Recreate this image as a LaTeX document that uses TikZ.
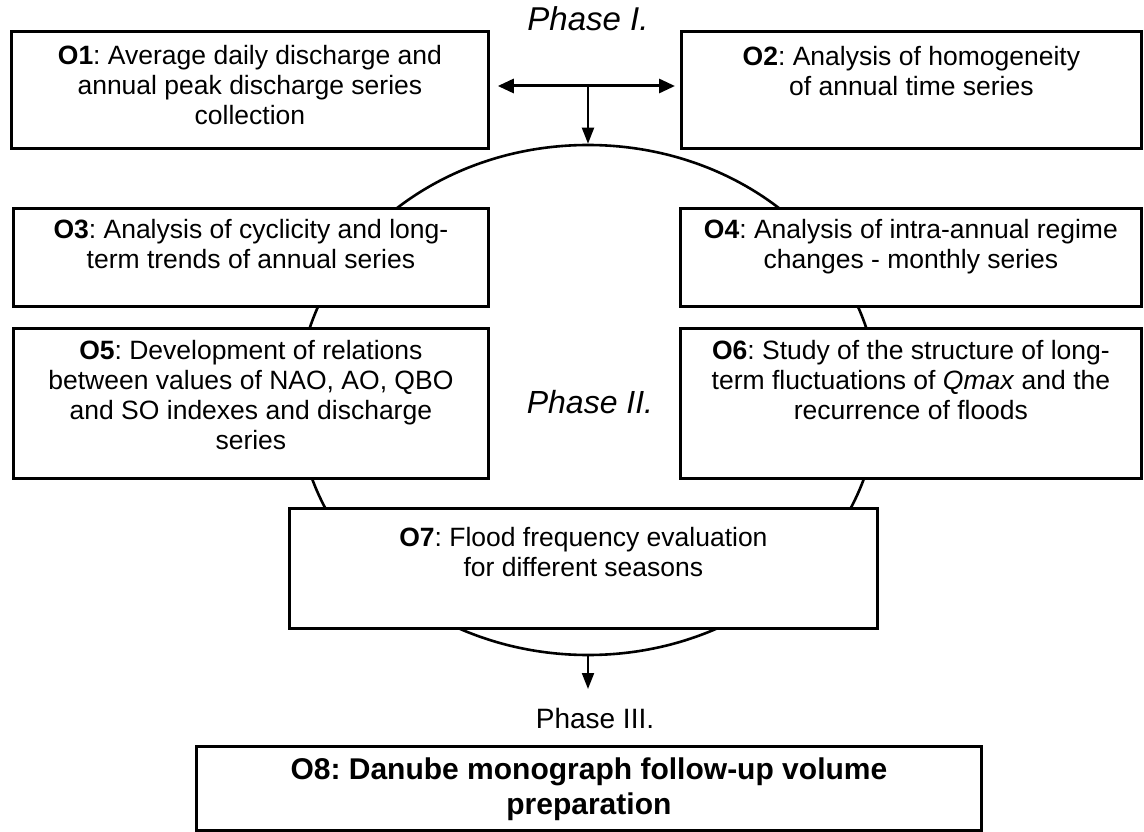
\documentclass[tikz,border=0pt]{standalone}
\usepackage{fontspec}
\setmainfont{Liberation Sans}
\usetikzlibrary{arrows.meta,shapes.geometric}
\frenchspacing
\begin{document}
\begin{tikzpicture}[x=1pt,y=-1pt,
  box/.style={draw, line width=2.8pt, fill=white, inner sep=0pt, anchor=north west},
  txt/.style={anchor=north, align=center, inner sep=0pt, font=\fontsize{26.5}{30}\selectfont},
  arr/.style={line width=2pt, -{Triangle[length=16pt,width=12pt]}}
]
\useasboundingbox (0,0) rectangle (1144,832);

% cycle of phase II
\node[draw, ellipse, line width=2.6pt, minimum width=580pt, minimum height=510pt, inner sep=0pt] (cyc) at (588,400) {};

% boxes
\node[box, minimum width=477pt, minimum height=117pt] (o1) at (10,30) {};
\node[box, minimum width=460pt, minimum height=117pt] (o2) at (680,30) {};
\node[box, minimum width=475pt, minimum height=98pt] (o3) at (12,207) {};
\node[box, minimum width=461pt, minimum height=98pt] (o4) at (679,207) {};
\node[box, minimum width=475pt, minimum height=150pt] (o5) at (12,327) {};
\node[box, minimum width=461pt, minimum height=150pt] (o6) at (679,327) {};
\node[box, minimum width=588pt, minimum height=120pt] (o7) at (288,507) {};
\node[box, minimum width=785pt, minimum height=84pt] (o8) at (195,745) {};

% texts
\node[txt] (o1t) at ([yshift=-15pt]o1.north) {\textbf{O1}: Average daily discharge and\\annual peak discharge series\\collection};
\node[txt] (o2t) at ([yshift=-16pt]o2.north) {\textbf{O2}: Analysis of homogeneity\\of annual time series};
\node[txt] (o3t) at ([yshift=-12pt]o3.north) {\textbf{O3}: Analysis of cyclicity and long-\\term trends of annual series};
\node[txt] (o4t) at ([yshift=-12pt]o4.north) {\textbf{O4}: Analysis of intra-annual regime\\changes - monthly series};
\node[txt] (o5t) at ([yshift=-13pt]o5.north) {\textbf{O5}: Development of relations\\between values of NAO, AO, QBO\\and SO indexes and discharge\\series};
\node[txt] (o6t) at ([yshift=-13pt]o6.north) {\textbf{O6}: Study of the structure of long-\\term fluctuations of \textit{Qmax} and the\\recurrence of floods};
\node[txt] (o7t) at ([yshift=-20pt]o7.north) {\textbf{O7}: Flood frequency evaluation\\for different seasons};
\node[txt, font=\fontsize{30}{35}\selectfont\bfseries] (o8t) at ([yshift=-13pt]o8.north) {O8: Danube monograph follow-up volume\\preparation};

% phase labels
\node[inner sep=0pt, font=\fontsize{33}{36}\selectfont\itshape] (p1) at (588,19) {Phase I.};
\node[inner sep=0pt, font=\fontsize{32}{36}\selectfont\itshape] (p2) at (590,402) {Phase II.};
\node[inner sep=0pt, font=\fontsize{28}{32}\selectfont] (p3) at (595,718) {Phase III.};

% connectors
\coordinate (j) at (588,86);
\coordinate (out) at (588,689);
\draw[line width=3pt, {Triangle[length=16pt,width=14pt]}-{Triangle[length=16pt,width=14pt]}, shorten <=8pt, shorten >=5pt] (o1.east |- j) -- (o2.west |- j);
\draw[arr] (j) -- (cyc.north);
\draw[arr] (cyc.south) -- (out);
\end{tikzpicture}
\end{document}
